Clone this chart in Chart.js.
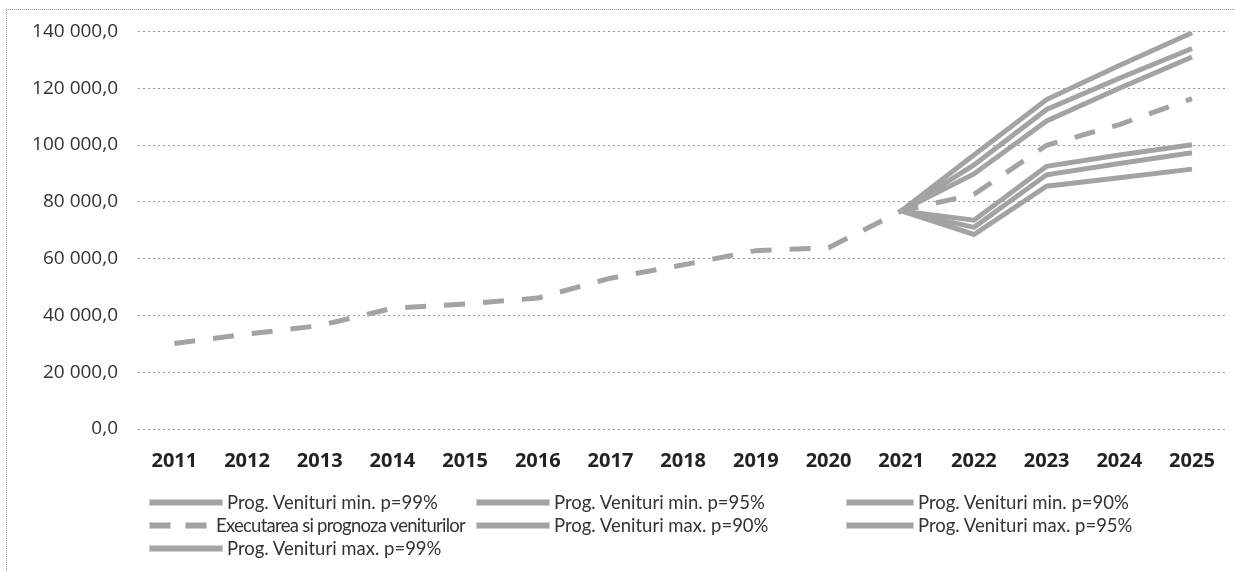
<!DOCTYPE html>
<html>
<head>
<meta charset="utf-8">
<script src="https://cdn.jsdelivr.net/npm/chart.js@4"></script>
<style>
  body { margin: 0; background: #fff; font-family: 'Open Sans', sans-serif; }
  #wrap { position: relative; width: 1235px; height: 571px; overflow: hidden; }
  #frame { position: absolute; left: 6px; top: 9px; right: -2px; bottom: -2px;
           border-left: 1px dotted #999; border-top: 1px dotted #999; }
  #box { position: absolute; left: 0; top: 0; width: 1235px; height: 480px; }
  #legend { position: absolute; left: 0; top: 0; width: 1235px; height: 571px; pointer-events: none; }
  .item { position: absolute; display: flex; align-items: center; font-family: 'Lato', sans-serif;
          font-size: 18.5px; color: #333; white-space: nowrap; }
  .line { height: 5px; background: #a3a3a3; box-shadow: 0 0 0 1px #cfcfcf; margin-right: 5px; }
  .dash { height: 5px; width: 20px; background: #a3a3a3; box-shadow: 0 0 0 1px #cfcfcf; }
</style>
</head>
<body>
<div id="wrap">
  <div id="frame"></div>
  <div id="box"><canvas id="chart"></canvas></div>
  <div id="legend"></div>
</div>
<script>
// Years on the x axis
const years = ['2011', '2012', '2013', '2014', '2015', '2016', '2017', '2018',
  '2019', '2020', '2021', '2022', '2023', '2024', '2025'];

// Executed and forecast revenues
const executare = [30100, 33400, 36400, 42500, 44000, 46100, 53100, 57800,
  62800, 63800, 76800, 82600, 99900, 107200, 116300];

// Forecast bands (start at 2021)
const minP99 = [null, null, null, null, null, null, null, null, null, null, 76800, 68500, 85500, 88500, 91500];
const minP95 = [null, null, null, null, null, null, null, null, null, null, 76800, 71000, 89500, 93500, 97300];
const minP90 = [null, null, null, null, null, null, null, null, null, null, 76800, 73500, 92500, 96500, 100100];
const maxP90 = [null, null, null, null, null, null, null, null, null, null, 76800, 89800, 108500, 120000, 131000];
const maxP95 = [null, null, null, null, null, null, null, null, null, null, 76800, 93000, 112500, 123500, 134000];
const maxP99 = [null, null, null, null, null, null, null, null, null, null, 76800, 96500, 116000, 128000, 139500];

const yTicks = [0, 20000, 40000, 60000, 80000, 100000, 120000, 140000];

const lineGray = '#a3a3a3';

function fmt(v) {
  const parts = v.toFixed(1).split('.');
  return parts[0].replace(/\B(?=(\d{3})+(?!\d))/g, ' ') + ',' + parts[1];
}

function band(label, data) {
  return { label: label, data: data, borderColor: lineGray, borderWidth: 5,
    pointRadius: 0, fill: false, tension: 0 };
}

const datasets = [
  band('Prog. Venituri min. p=99%', minP99),
  band('Prog. Venituri min. p=95%', minP95),
  band('Prog. Venituri min. p=90%', minP90),
  { label: 'Executarea si prognoza veniturilor', data: executare, borderColor: lineGray,
    borderWidth: 5, borderDash: [21, 18], pointRadius: 0, fill: false, tension: 0, dashed: true },
  band('Prog. Venituri max. p=90%', maxP90),
  band('Prog. Venituri max. p=95%', maxP95),
  band('Prog. Venituri max. p=99%', maxP99),
];

const chart = new Chart(document.getElementById('chart'), {
  type: 'line',
  data: { labels: years, datasets: datasets },
  options: {
    responsive: true,
    maintainAspectRatio: false,
    animation: false,
    layout: { padding: { left: 0, right: 4, top: 20, bottom: 0 } },
    plugins: { legend: { display: false }, tooltip: { enabled: false } },
    scales: {
      x: {
        offset: true,
        grid: { display: false, drawTicks: false },
        border: { display: false },
        ticks: { padding: 20, color: '#222', font: { family: 'Open Sans', size: 20, weight: 'bold' } },
        afterFit: (scale) => { scale.height = 51; }
      },
      y: {
        min: 0, max: 140000,
        afterBuildTicks: (scale) => { scale.ticks = yTicks.map(v => ({ value: v })); },
        grid: { color: 'rgba(0,0,0,0.4)', lineWidth: 1, drawTicks: false },
        border: { display: false, dash: [2, 3] },
        ticks: { padding: 20, color: '#333', font: { family: 'Open Sans', size: 19 },
          callback: (v) => fmt(v) },
        afterFit: (scale) => { scale.width = 138; }
      }
    }
  }
});

// HTML legend laid out in three columns like the original
const colX = [150, 477, 847];
const rowY = [503, 526, 549];
const legend = document.getElementById('legend');
datasets.forEach((ds, i) => {
  const item = document.createElement('div');
  item.className = 'item';
  const col = i % 3, row = Math.floor(i / 3);
  item.style.left = colX[col] + 'px';
  item.style.top = (rowY[row] - 12) + 'px';
  if (ds.dashed) {
    const a = document.createElement('div'); a.className = 'dash';
    const b = document.createElement('div'); b.className = 'dash';
    b.style.marginLeft = '16px'; b.style.marginRight = '10px';
    item.appendChild(a); item.appendChild(b);
  } else {
    const l = document.createElement('div'); l.className = 'line';
    l.style.width = (col === 2 ? 66 : 72) + 'px';
    item.appendChild(l);
  }
  const t = document.createElement('span');
  t.textContent = ds.label;
  item.appendChild(t);
  legend.appendChild(item);

  // squeeze a label that would run into the next column
  if (col < 2) {
    const room = colX[col + 1] - 12 - (colX[col] + t.offsetLeft);
    if (t.offsetWidth > room) {
      t.style.letterSpacing = ((room - t.offsetWidth) / ds.label.length).toFixed(2) + 'px';
    }
  }
});
</script>
</body>
</html>
